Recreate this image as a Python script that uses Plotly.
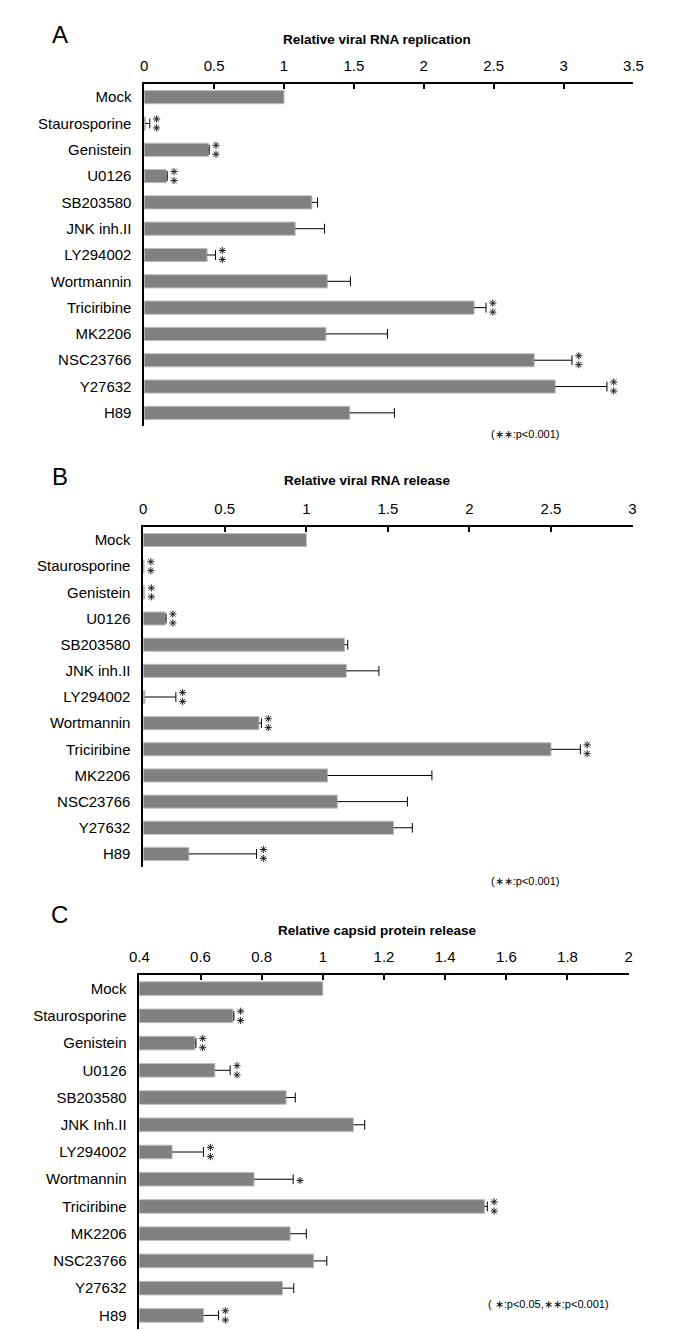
import plotly.graph_objects as go

W, H = 685, 1331

categories_ab = ["Mock", "Staurosporine", "Genistein", "U0126", "SB203580", "JNK inh.II",
                 "LY294002", "Wortmannin", "Triciribine", "MK2206", "NSC23766", "Y27632", "H89"]
categories_c = ["Mock", "Staurosporine", "Genistein", "U0126", "SB203580", "JNK Inh.II",
                "LY294002", "Wortmannin", "Triciribine", "MK2206", "NSC23766", "Y27632", "H89"]

# Panel A: Relative viral RNA replication
a_values = [1.0, 0.01, 0.46, 0.16, 1.20, 1.08, 0.45, 1.31, 2.36, 1.30, 2.79, 2.94, 1.47]
a_errors = [0.0, 0.03, 0.005, 0.005, 0.04, 0.21, 0.06, 0.165, 0.085, 0.44, 0.27, 0.37, 0.32]
a_sig = ["", "**", "**", "**", "", "", "**", "", "**", "", "**", "**", ""]

# Panel B: Relative viral RNA release
b_values = [1.0, 0.005, 0.008, 0.135, 1.234, 1.245, 0.01, 0.71, 2.50, 1.13, 1.19, 1.535, 0.28]
b_errors = [0.0, 0.0, 0.0, 0.005, 0.02, 0.20, 0.19, 0.015, 0.18, 0.64, 0.43, 0.115, 0.415]
b_sig = ["", "**", "**", "**", "", "", "**", "**", "**", "", "", "", "**"]

# Panel C: Relative capsid protein release
c_values = [1.0, 0.706, 0.582, 0.647, 0.88, 1.10, 0.507, 0.775, 1.529, 0.893, 0.97, 0.868, 0.61]
c_errors = [0.0, 0.003, 0.003, 0.05, 0.03, 0.037, 0.103, 0.128, 0.009, 0.053, 0.043, 0.037, 0.049]
c_sig = ["", "**", "**", "**", "", "", "**", "*", "**", "", "", "", "**"]

panels = [
    dict(letter="A", title="Relative viral RNA replication", cats=categories_ab,
         vals=a_values, errs=a_errors, sig=a_sig, xr=[0, 3.5], dtick=0.5,
         left=130, right=634, top=76, bottom=418, title_x=370, title_y=32, letter_y=27,
         note="(∗∗:p<0.001)", note_x=522, note_y=426, ax="x", ay="y"),
    dict(letter="B", title="Relative viral RNA release", cats=categories_ab,
         vals=b_values, errs=b_errors, sig=b_sig, xr=[0, 3], dtick=0.5,
         left=129, right=633, top=519, bottom=859, title_x=360, title_y=473, letter_y=468,
         note="(∗∗:p<0.001)", note_x=522, note_y=873, ax="x2", ay="y2"),
    dict(letter="C", title="Relative capsid protein release", cats=categories_c,
         vals=c_values, errs=c_errors, sig=c_sig, xr=[0.4, 2], dtick=0.2,
         left=125, right=629, top=967, bottom=1321, title_x=370, title_y=922, letter_y=906,
         note="( ∗:p<0.05,∗∗:p<0.001)", note_x=546, note_y=1296, ax="x3", ay="y3"),
]

font_family = "Liberation Sans, Arial, sans-serif"
fig = go.Figure()
annotations = []
layout_axes = {}

for p in panels:
    xa, ya = p["ax"], p["ay"]
    n = len(p["cats"])
    pos = list(range(n))
    fig.add_trace(go.Bar(
        y=pos, x=p["vals"], orientation="h", width=0.5,
        marker=dict(color="#808080", line=dict(color="#bdbdbd", width=1)),
        xaxis=xa, yaxis=ya, showlegend=False, hoverinfo="skip",
        error_x=dict(type="data", symmetric=False, array=p["errs"],
                     arrayminus=[0] * n, color="black", thickness=1, width=0),
    ))
    cap_x = [v + e for v, e in zip(p["vals"], p["errs"]) if e > 0]
    cap_y = [i for i, e in zip(pos, p["errs"]) if e > 0]
    fig.add_trace(go.Scatter(
        x=cap_x, y=cap_y, mode="markers", xaxis=xa, yaxis=ya, showlegend=False,
        hoverinfo="skip",
        marker=dict(symbol="line-ns", size=7, color="black", line=dict(color="black", width=1)),
    ))
    # significance asterisks, a few pixels right of the error bar end
    px_per_unit = (p["right"] - p["left"]) / (p["xr"][1] - p["xr"][0])
    dx = 7 / px_per_unit
    star_x, star_y = [], []
    for i, v, e, s in zip(pos, p["vals"], p["errs"], p["sig"]):
        if not s:
            continue
        xs = max(v + e, p["xr"][0]) + dx
        if s == "**":
            star_x += [xs, xs]
            star_y += [i - 0.17, i + 0.17]
        else:
            star_x.append(xs)
            star_y.append(i + 0.05)
    fig.add_trace(go.Scatter(
        x=star_x, y=star_y, mode="markers", xaxis=xa, yaxis=ya, showlegend=False,
        hoverinfo="skip",
        marker=dict(symbol="asterisk-open", size=6, color="#222",
                    line=dict(color="#222", width=1)),
    ))
    idx = "" if xa == "x" else xa[1:]
    layout_axes["xaxis" + idx] = dict(
        domain=[p["left"] / W, p["right"] / W], anchor=ya, side="top",
        range=p["xr"], dtick=p["dtick"], tick0=p["xr"][0],
        showline=True, linecolor="black", linewidth=2,
        ticks="inside", ticklen=5, tickwidth=2, tickcolor="black",
        showgrid=False, zeroline=False, ticklabelstandoff=5,
        tickfont=dict(family=font_family, size=15, color="black"),
        fixedrange=True,
    )
    layout_axes["yaxis" + idx] = dict(
        domain=[1 - p["bottom"] / H, 1 - p["top"] / H], anchor=xa,
        tickmode="array", tickvals=pos, ticktext=p["cats"],
        range=[n - 0.5, -0.5],
        showline=True, linecolor="black", linewidth=1.5, ticks="",
        showgrid=False, zeroline=False, ticklabelstandoff=8,
        tickfont=dict(family=font_family, size=15, color="black"),
        fixedrange=True,
    )
    annotations.append(dict(
        x=43 / W, y=1 - p["letter_y"] / H, xref="paper", yref="paper", text=p["letter"],
        showarrow=False, xanchor="center", yanchor="middle",
        font=dict(family=font_family, size=24, color="black"),
    ))
    annotations.append(dict(
        x=p["title_x"] / W, y=1 - p["title_y"] / H, xref="paper", yref="paper",
        text="<b>" + p["title"] + "</b>", showarrow=False, xanchor="center", yanchor="middle",
        font=dict(family=font_family, size=13.5, color="black"),
    ))
    annotations.append(dict(
        x=p["note_x"] / W, y=1 - p["note_y"] / H, xref="paper", yref="paper",
        text=p["note"], showarrow=False, xanchor="center", yanchor="middle",
        font=dict(family=font_family, size=11, color="black"),
    ))

fig.update_layout(
    width=W, height=H, margin=dict(l=0, r=0, t=0, b=0),
    paper_bgcolor="white", plot_bgcolor="white",
    annotations=annotations, **layout_axes,
)

fig.write_html("out.html")
